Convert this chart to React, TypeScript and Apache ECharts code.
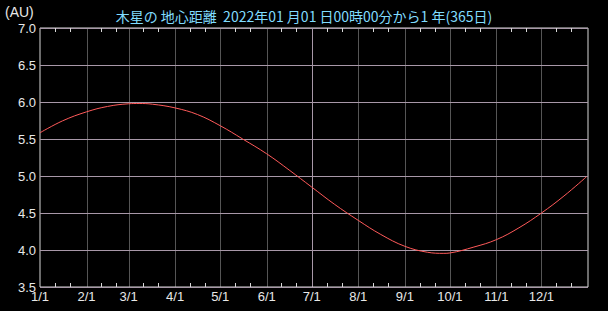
import React, { useEffect, useRef } from "react";
import * as echarts from "echarts";

const titleText = "木星の 地心距離  2022年01 月01 日00時00分から1 年(365日)";
const unitText = "(AU)";
const monthLabels = ["1/1", "2/1", "3/1", "4/1", "5/1", "6/1", "7/1", "8/1", "9/1", "10/1", "11/1", "12/1"];
const monthStartDays = [0, 31, 59, 90, 120, 151, 181, 212, 243, 273, 304, 334];
const dayOffsets = [0, 15, 31, 45, 59, 66, 75, 90, 105, 120, 135, 151, 166, 181, 196, 212, 227, 243, 258, 269, 273, 289, 304, 319, 334, 349, 364];
const distances = [5.584, 5.745, 5.867, 5.94, 5.976, 5.98, 5.97, 5.92, 5.83, 5.68, 5.5, 5.3, 5.08, 4.85, 4.62, 4.4, 4.21, 4.05, 3.97, 3.955, 3.96, 4.04, 4.14, 4.3, 4.5, 4.73, 4.99];
const yMin = 3.5;
const yMax = 7.0;
const yStep = 0.5;
const midYearDay = 181;

export default function App() {
  const ref = useRef<HTMLDivElement>(null);
  useEffect(() => {
    if (!ref.current) return;
    const chart = echarts.init(ref.current, null, { renderer: "svg" });
    const minorTicks: number[] = [];
    monthStartDays.forEach((d) => {
      minorTicks.push(d + 10, d + 20);
    });
    const frame = "#d8d8d8";
    const hGrid = "#a898a8";
    const vGrid = "#555555";
    const textColor = "#e8e8e8";
    const font = "'Liberation Sans', 'Noto Sans CJK JP', sans-serif";
    chart.setOption({
      animation: false,
      backgroundColor: "#000000",
      title: {
        text: titleText,
        left: "center",
        top: 4,
        textStyle: { color: "#80dcff", fontSize: 14, fontWeight: "normal", fontFamily: "'Noto Sans CJK JP', sans-serif" },
      },
      graphic: [
        {
          type: "text",
          left: 5,
          top: 5,
          style: { text: unitText, fill: textColor, fontSize: 14, fontFamily: font },
        },
      ],
      grid: { left: 40, right: 20, top: 28, bottom: 24, show: true, borderColor: frame, borderWidth: 1, backgroundColor: "transparent" },
      xAxis: [
        {
          type: "value",
          min: 0,
          max: 365,
          position: "bottom",
          axisLine: { show: false },
          splitLine: { show: false },
          axisTick: { show: true, inside: true, length: 4, interval: 0, customValues: minorTicks, lineStyle: { color: frame } },
          axisLabel: {
            show: true,
            interval: 0,
            customValues: monthStartDays,
            formatter: (v: number) => monthLabels[monthStartDays.indexOf(Math.round(v))] ?? "",
            color: textColor,
            fontSize: 13,
            fontFamily: font,
            margin: 3,
          },
        },
        {
          type: "value",
          min: 0,
          max: 365,
          position: "top",
          axisLine: { show: false },
          splitLine: { show: false },
          axisLabel: { show: false },
          axisTick: { show: true, inside: true, length: 4, interval: 0, customValues: minorTicks, lineStyle: { color: frame } },
        },
      ],
      yAxis: {
        type: "value",
        min: yMin,
        max: yMax,
        interval: yStep,
        axisLine: { show: false },
        axisTick: { show: false },
        splitLine: { show: true, lineStyle: { color: hGrid, width: 1 } },
        axisLabel: {
          color: textColor,
          fontSize: 13,
          fontFamily: font,
          margin: 4,
          formatter: (v: number) => v.toFixed(1),
        },
      },
      series: [
        {
          type: "custom",
          xAxisIndex: 0,
          silent: true,
          z: -1,
          data: monthStartDays.slice(1).map((d) => [d]),
          renderItem: (params: any, api: any) => {
            const d = api.value(0);
            const top = api.coord([d, yMax]);
            const bottom = api.coord([d, yMin]);
            const x = Math.round(top[0]) + 0.5;
            return {
              type: "line",
              shape: { x1: x, y1: top[1], x2: x, y2: bottom[1] },
              style: { stroke: d === midYearDay ? hGrid : vGrid, lineWidth: 1 },
            };
          },
        },
        {
          type: "line",
          xAxisIndex: 0,
          data: dayOffsets.map((d, i) => [d, distances[i]]),
          smooth: 0.4,
          symbol: "none",
          lineStyle: { color: "#ff5a5a", width: 1 },
          z: 5,
        },
      ],
    });
    return () => chart.dispose();
  }, []);
  return (
    <div
      ref={ref}
      style={{ position: "fixed", left: 0, top: 0, width: 608, height: 311, background: "#000" }}
    />
  );
}
